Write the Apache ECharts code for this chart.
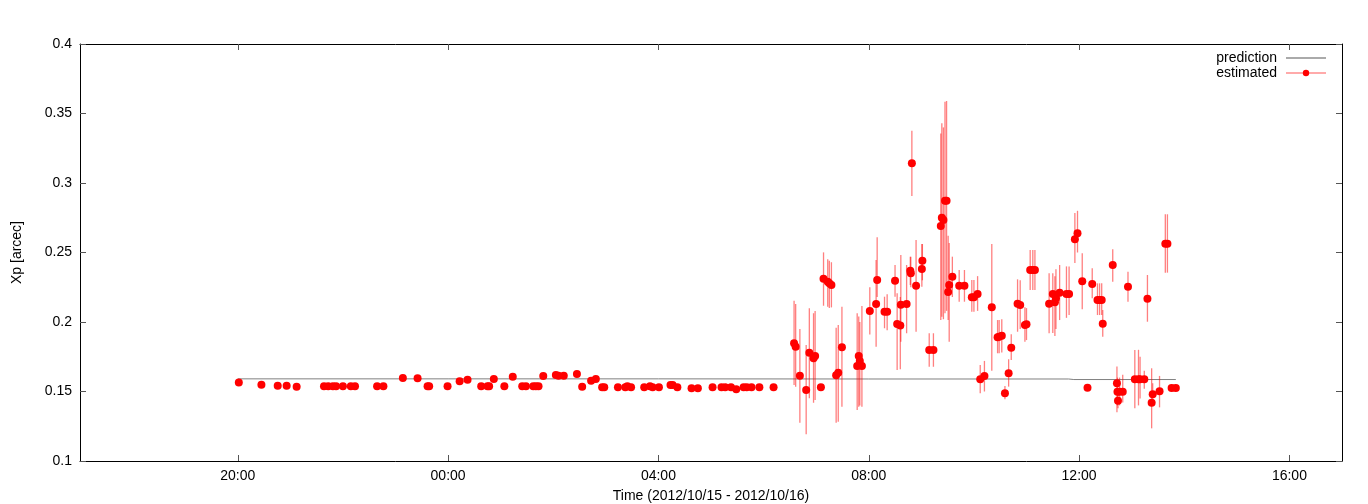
<!DOCTYPE html>
<html><head><meta charset="utf-8">
<script src="https://cdn.jsdelivr.net/npm/echarts@6/dist/echarts.min.js"></script>
<style>html,body{margin:0;padding:0;background:#fff;overflow:hidden}#c{width:1368px;height:504px}</style>
</head><body><div id="c"></div>
<script>
// x values are hours counted from 2012/10/15 00:00
const xTickHours = [20, 24, 28, 32, 36, 40];

const predictionTimes  = [20.00, 24.00, 28.00, 32.00, 35.80, 35.90, 37.84];
const predictionValues = [0.1591, 0.1591, 0.1591, 0.1590, 0.1590, 0.1586, 0.1586];

const estimatedTimes = [
  20.02,20.45,20.76,20.93,21.12,21.64,21.72,21.81,21.87,22.00,
  22.15,22.23,22.65,22.77,23.14,23.42,23.61,23.64,23.99,24.22,
  24.37,24.63,24.75,24.78,24.87,25.07,25.23,25.41,25.48,25.62,
  25.67,25.72,25.81,26.05,26.10,26.20,26.45,26.55,26.72,26.81,
  26.93,26.97,27.23,27.37,27.41,27.48,27.73,27.84,27.89,28.01,
  28.23,28.27,28.36,28.63,28.75,29.03,29.20,29.27,29.38,29.48,
  29.62,29.68,29.77,29.92,30.19,
  30.58,30.61,30.69,30.81,30.87,30.95,30.98,31.09,31.14,31.22,
  31.25,31.29,31.38,31.42,31.49,31.78,31.81,31.83,31.87,32.02,
  32.14,32.16,32.30,32.35,32.50,32.54,32.60,32.61,32.72,32.79,
  32.80,32.82,32.90,33.01,33.02,33.15,33.23,33.37,33.39,33.42,
  33.45,33.48,33.51,33.53,33.59,33.72,33.82,33.96,34.00,34.07,
  34.12,34.20,34.34,34.45,34.48,34.53,34.59,34.66,34.71,34.83,
  34.88,34.97,35.00,35.07,35.12,35.16,35.43,35.50,35.54,35.56,
  35.63,35.76,35.81,35.92,35.97,36.06,36.16,36.25,36.35,36.39,
  36.43,36.45,36.64,36.72,36.73,36.74,36.77,36.83,36.93,37.06,
  37.13,37.16,37.24,37.30,37.38,37.40,37.53,37.64,37.68,37.76,
  37.84
];
const estimatedValues = [
  0.1565,0.1549,0.1542,0.1542,0.1535,0.1538,0.1538,0.1538,0.1538,0.1538,
  0.1538,0.1538,0.1538,0.1538,0.1597,0.1595,0.1538,0.1538,0.1538,0.1573,
  0.1585,0.1538,0.1538,0.1538,0.1590,0.1538,0.1607,0.1538,0.1538,0.1538,
  0.1538,0.1538,0.1612,0.1619,0.1614,0.1614,0.1626,0.1535,0.1578,0.1590,
  0.1530,0.1530,0.1530,0.1530,0.1538,0.1530,0.1530,0.1538,0.1530,0.1530,
  0.1547,0.1547,0.1530,0.1523,0.1523,0.1530,0.1530,0.1530,0.1530,0.1516,
  0.1530,0.1530,0.1530,0.1530,0.1530,
  0.1847,0.1822,0.1614,0.1511,0.1779,0.1739,0.1755,0.1530,0.2312,0.2290,
  0.2278,0.2266,0.1617,0.1635,0.1818,0.1683,0.1755,0.1719,0.1683,0.2079,
  0.2129,0.2302,0.2074,0.2074,0.2297,0.1986,0.1974,0.2124,0.2129,0.2369,
  0.2350,0.3142,0.2261,0.2381,0.2441,0.1799,0.1799,0.2691,0.2750,0.2734,
  0.2873,0.2873,0.2216,0.2266,0.2326,0.2261,0.2261,0.2178,0.2178,0.2201,
  0.1588,0.1612,0.2106,0.1890,0.1894,0.1901,0.1487,0.1631,0.1815,0.2132,
  0.2122,0.1978,0.1983,0.2374,0.2374,0.2374,0.2132,0.2201,0.2142,0.2170,
  0.2211,0.2201,0.2201,0.2595,0.2638,0.2293,0.1527,0.2273,0.2158,0.2158,
  0.2158,0.1988,0.2410,0.1559,0.1499,0.1434,0.1499,0.1499,0.2254,0.1588,
  0.1588,0.1588,0.1588,0.2168,0.1419,0.1480,0.1501,0.2563,0.2563,0.1525,
  0.1525
];
// error-bar ends (null: bar too short to be seen)
const estimatedLow = [
  null,null,null,null,null,null,null,null,null,null,
  null,null,null,null,null,null,null,null,null,null,
  null,null,null,null,null,null,null,null,null,null,
  null,null,null,null,null,null,null,null,null,null,
  null,null,null,null,null,null,null,null,null,null,
  null,null,null,null,null,null,null,null,null,null,
  null,null,null,null,null,
  0.1547,0.1535,0.1276,0.1192,0.1451,0.1419,0.1439,null,0.2117,0.2110,
  0.2100,0.2105,0.1276,0.1283,0.1390,0.1367,0.1390,0.1400,0.1390,0.1910,
  0.1822,0.2180,0.1955,0.1940,0.2182,0.1655,0.1660,0.1858,0.1919,0.2266,
  0.2250,0.2906,0.1930,0.2254,0.2300,0.1678,0.1678,0.2014,0.2038,0.2020,
  0.2063,0.2080,0.2014,0.1858,0.2180,0.2146,0.2146,0.2074,0.2074,0.2080,
  0.1487,0.1500,0.1649,0.1775,0.1775,0.1780,0.1444,0.1535,0.1727,0.1930,
  0.1950,0.1858,0.1870,0.2230,0.2230,0.2230,0.1919,0.1920,0.1900,0.1950,
  0.2014,0.2030,0.2050,0.2424,0.2500,0.2091,null,0.2171,0.2050,0.2050,
  0.2050,0.1894,0.2290,0.1350,0.1400,0.1380,0.1400,0.1420,0.2146,0.1379,
  0.1400,0.1450,0.1520,0.2002,0.1235,0.1400,0.1386,0.2355,0.2355,null,
  null
];
const estimatedHigh = [
  null,null,null,null,null,null,null,null,null,null,
  null,null,null,null,null,null,null,null,null,null,
  null,null,null,null,null,null,null,null,null,null,
  null,null,null,null,null,null,null,null,null,null,
  null,null,null,null,null,null,null,null,null,null,
  null,null,null,null,null,null,null,null,null,null,
  null,null,null,null,null,
  0.2153,0.2130,0.1950,0.1835,0.2099,0.2063,0.2079,null,0.2501,0.2451,
  0.2440,0.2430,0.1959,0.1978,0.2110,0.2063,0.2040,0.2000,0.2115,0.2250,
  0.2446,0.2610,0.2182,0.2200,0.2410,0.2206,0.2180,0.2482,0.2410,0.2470,
  0.2470,0.3376,0.2590,0.2561,0.2561,0.1919,0.1919,0.3357,0.3429,0.3400,
  0.3585,0.3590,0.2620,0.2568,0.2470,0.2374,0.2374,0.2302,0.2302,0.2330,
  0.1691,0.1720,0.2561,0.2014,0.2014,0.2020,0.1540,0.1732,0.1911,0.2307,
  0.2300,0.2106,0.2100,0.2518,0.2518,0.2518,0.2350,0.2350,0.2330,0.2380,
  0.2410,0.2400,0.2400,0.2784,0.2800,0.2494,null,0.2386,0.2278,0.2278,
  0.2278,0.2086,0.2523,0.1680,0.1600,0.1490,0.1600,0.1620,0.2362,0.1799,
  0.1800,0.1750,0.1650,0.2338,0.1667,0.1560,0.1612,0.2775,0.2775,null,
  null
];

const FONT = 'Liberation Sans, Helvetica, Arial, sans-serif';
const predictionData = predictionTimes.map((t, i) => [t, predictionValues[i]]);
const estimatedData = estimatedTimes.map((t, i) => [t, estimatedValues[i]]);
const errorData = [];
estimatedTimes.forEach((t, i) => {
  if (estimatedLow[i] != null && estimatedHigh[i] != null) errorData.push([t, estimatedLow[i], estimatedHigh[i]]);
});

function hourLabel(v) {
  const h = ((Math.round(v) % 24) + 24) % 24;
  return (h < 10 ? '0' : '') + h + ':00';
}

const frameLine = { show: true, onZero: false, lineStyle: { color: '#000', width: 1 } };
const tickStyle = { color: '#555', width: 1 };

const chart = echarts.init(document.getElementById('c'), null, { renderer: 'canvas', width: 1368, height: 504 });
chart.setOption({
  animation: false,
  backgroundColor: '#fff',
  grid: { left: 80, top: 44, width: 1262, height: 417, containLabel: false, outerBoundsMode: 'none' },
  legend: {
    orient: 'vertical', right: 41, top: 51, padding: 0, align: 'right',
    itemWidth: 40, itemHeight: 8, itemGap: 1,
    textStyle: { fontSize: 14, color: '#000', fontFamily: FONT, padding: [0, 4, 0, 0], lineHeight: 14 },
    data: [
      { name: 'prediction', lineStyle: { color: '#aaaaaa', width: 2, opacity: 1 }, itemStyle: { opacity: 0 } },
      { name: 'estimated', lineStyle: { color: '#ffaaaa', width: 2, opacity: 1 }, itemStyle: { color: '#ff0000' } }
    ]
  },
  xAxis: [
    {
      type: 'value', position: 'bottom', min: 17, max: 41,
      axisLine: frameLine,
      axisTick: { show: true, inside: true, length: 6, customValues: xTickHours, lineStyle: tickStyle },
      axisLabel: { customValues: xTickHours, formatter: hourLabel, color: '#000', fontSize: 14, fontFamily: FONT, margin: 8 },
      splitLine: { show: false },
      name: 'Time (2012/10/15 - 2012/10/16)', nameLocation: 'middle', nameGap: 28,
      nameTextStyle: { color: '#000', fontSize: 14, fontFamily: FONT }
    },
    {
      type: 'value', position: 'top', min: 17, max: 41,
      axisLine: frameLine,
      axisTick: { show: true, inside: true, length: 6, customValues: xTickHours, lineStyle: tickStyle },
      axisLabel: { show: false },
      splitLine: { show: false }
    }
  ],
  yAxis: [
    {
      type: 'value', position: 'left', min: 0.1, max: 0.4, interval: 0.05,
      axisLine: frameLine,
      axisTick: { show: true, inside: true, length: 6, lineStyle: tickStyle },
      axisLabel: { color: '#000', fontSize: 14, fontFamily: FONT, margin: 8 },
      splitLine: { show: false },
      name: 'Xp [arcec]', nameLocation: 'middle', nameGap: 56,
      nameTextStyle: { color: '#000', fontSize: 14, fontFamily: FONT }
    },
    {
      type: 'value', position: 'right', min: 0.1, max: 0.4, interval: 0.05,
      axisLine: frameLine,
      axisTick: { show: true, inside: true, length: 6, lineStyle: tickStyle },
      axisLabel: { show: false },
      splitLine: { show: false }
    }
  ],
  series: [
    {
      name: 'prediction', type: 'line', xAxisIndex: 0, yAxisIndex: 0,
      data: predictionData, symbol: 'none', silent: true, z: 1,
      lineStyle: { color: '#808080', width: 1 }, itemStyle: { color: '#808080' }
    },
    {
      name: 'estimatedErrors', type: 'custom', xAxisIndex: 0, yAxisIndex: 0,
      data: errorData, encode: { x: 0, y: [1, 2] }, z: 2, silent: true,
      renderItem: function (params, api) {
        const p1 = api.coord([api.value(0), api.value(1)]);
        const p2 = api.coord([api.value(0), api.value(2)]);
        return {
          type: 'line',
          shape: { x1: p1[0], y1: p1[1], x2: p2[0], y2: p2[1] },
          style: { stroke: 'rgba(255,0,0,0.5)', lineWidth: 1.3 }
        };
      }
    },
    {
      name: 'estimated', type: 'line', xAxisIndex: 0, yAxisIndex: 0,
      data: estimatedData, symbol: 'circle', symbolSize: 8, showSymbol: true, showAllSymbol: true, z: 3,
      itemStyle: { color: '#ff0000' },
      lineStyle: { color: '#ffaaaa', width: 0, opacity: 0 }
    }
  ]
});
</script>
</body></html>
